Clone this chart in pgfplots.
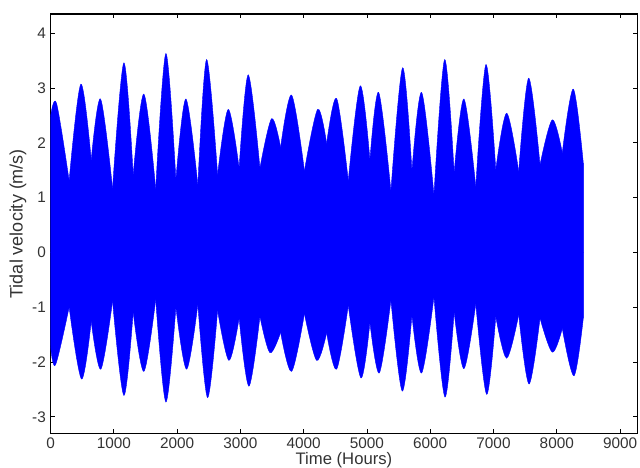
\documentclass[border=0pt]{standalone}
\usepackage{fontspec}
\setmainfont{Liberation Sans}
\usepackage{pgfplots}
\pgfplotsset{compat=1.18}
\begin{document}
\begin{tikzpicture}
\begin{axis}[
  at={(0,0)}, anchor=south west,
  scale only axis, width=440.1pt, height=314.5pt,
  xmin=0, xmax=9273, ymin=-3.3, ymax=4.35,
  xtick={0,1000,...,9000}, ytick={-3,-2,...,4},
  tick align=inside, major tick length=3pt,
  scaled x ticks=false,
  /pgf/number format/1000 sep={},
  /pgf/number format/assume math mode=true,
  tick label style={font=\fontsize{11.5}{13}\selectfont, text=black!80},
  tick style={black, line width=0.6pt},
  axis line style={line width=0.8pt},
  xlabel={Time (Hours)}, ylabel={Tidal velocity (m/s)},
  every axis x label/.style={at={(axis description cs:0.5,0)}, yshift=-14pt, anchor=north, inner sep=0pt, font=\fontsize{12.5}{14}\selectfont, text=black!80},
  every axis y label/.style={at={(axis description cs:0,0.5)}, xshift=-24.4pt, rotate=90, anchor=center, inner sep=0pt, font=\fontsize{13.5}{15}\selectfont, text=black!80},
  lobe/.style={fill=blue, draw=blue, line width=0.3pt, smooth, tension=0.55, mark=none},
]
% inner band through the cusp points (covers seams between lobes)
\addplot[fill=blue, draw=none] coordinates {
(0,2.48) (294,1.31) (643,1.69) (980,1.17) (1306,1.42) (1662,1.16) (1981,1.33)
(2328,1.23) (2640,1.42) (2980,1.54) (3309,1.54) (3636,1.92) (4012,1.49) (4363,1.99)
(4705,1.31) (5047,1.69) (5379,1.12) (5711,1.49) (6059,1.05) (6378,1.46) (6720,1.20)
(7036,1.51) (7398,1.48) (7735,1.60) (8087,1.82) (8419,1.63)
(8419,-1.20) (8087,-1.39) (7735,-1.20) (7398,-1.14) (7036,-1.17) (6720,-0.94)
(6378,-1.09) (6059,-0.81) (5711,-1.15) (5379,-0.87) (5047,-1.28) (4705,-0.97)
(4363,-1.47) (4012,-1.12) (3636,-1.46) (3309,-1.17) (2980,-1.20) (2640,-1.06)
(2328,-0.95) (1981,-1.00) (1662,-0.86) (1306,-1.09) (980,-0.89) (643,-1.26)
(294,-1.00) (0,-1.71)} -- cycle;
% upper envelope lobes
\addplot[lobe] coordinates {(0,2.48) (95,2.72) (294,1.31)} \closedcycle;
\addplot[lobe] coordinates {(294,1.31) (479,3.07) (643,1.69)} \closedcycle;
\addplot[lobe] coordinates {(643,1.69) (790,2.80) (980,1.17)} \closedcycle;
\addplot[lobe] coordinates {(980,1.17) (1159,3.46) (1306,1.42)} \closedcycle;
\addplot[lobe] coordinates {(1306,1.42) (1475,2.89) (1662,1.16)} \closedcycle;
\addplot[lobe] coordinates {(1662,1.16) (1823,3.63) (1981,1.33)} \closedcycle;
\addplot[lobe] coordinates {(1981,1.33) (2139,2.80) (2328,1.23)} \closedcycle;
\addplot[lobe] coordinates {(2328,1.23) (2466,3.52) (2640,1.42)} \closedcycle;
\addplot[lobe] coordinates {(2640,1.42) (2808,2.61) (2980,1.54)} \closedcycle;
\addplot[lobe] coordinates {(2980,1.54) (3124,3.24) (3309,1.54)} \closedcycle;
\addplot[lobe] coordinates {(3309,1.54) (3493,2.44) (3636,1.92)} \closedcycle;
\addplot[lobe] coordinates {(3636,1.92) (3810,2.87) (4012,1.49)} \closedcycle;
\addplot[lobe] coordinates {(4012,1.49) (4221,2.61) (4363,1.99)} \closedcycle;
\addplot[lobe] coordinates {(4363,1.99) (4521,2.81) (4705,1.31)} \closedcycle;
\addplot[lobe] coordinates {(4705,1.31) (4894,3.04) (5047,1.69)} \closedcycle;
\addplot[lobe] coordinates {(5047,1.69) (5185,2.92) (5379,1.12)} \closedcycle;
\addplot[lobe] coordinates {(5379,1.12) (5564,3.37) (5711,1.49)} \closedcycle;
\addplot[lobe] coordinates {(5711,1.49) (5864,2.92) (6059,1.05)} \closedcycle;
\addplot[lobe] coordinates {(6059,1.05) (6228,3.52) (6378,1.46)} \closedcycle;
\addplot[lobe] coordinates {(6378,1.46) (6533,2.80) (6720,1.20)} \closedcycle;
\addplot[lobe] coordinates {(6720,1.20) (6881,3.43) (7036,1.51)} \closedcycle;
\addplot[lobe] coordinates {(7036,1.51) (7208,2.54) (7398,1.48)} \closedcycle;
\addplot[lobe] coordinates {(7398,1.48) (7556,3.18) (7735,1.60)} \closedcycle;
\addplot[lobe] coordinates {(7735,1.60) (7929,2.42) (8087,1.82)} \closedcycle;
\addplot[lobe] coordinates {(8087,1.82) (8261,2.98) (8419,1.63)} \closedcycle;
% lower envelope lobes
\addplot[lobe] coordinates {(0,-1.71) (79,-2.05) (294,-1.00)} \closedcycle;
\addplot[lobe] coordinates {(294,-1.00) (490,-2.31) (643,-1.26)} \closedcycle;
\addplot[lobe] coordinates {(643,-1.26) (795,-2.13) (980,-0.89)} \closedcycle;
\addplot[lobe] coordinates {(980,-0.89) (1159,-2.61) (1306,-1.09)} \closedcycle;
\addplot[lobe] coordinates {(1306,-1.09) (1475,-2.17) (1662,-0.86)} \closedcycle;
\addplot[lobe] coordinates {(1662,-0.86) (1823,-2.73) (1981,-1.00)} \closedcycle;
\addplot[lobe] coordinates {(1981,-1.00) (2150,-2.13) (2328,-0.95)} \closedcycle;
\addplot[lobe] coordinates {(2328,-0.95) (2482,-2.65) (2640,-1.06)} \closedcycle;
\addplot[lobe] coordinates {(2640,-1.06) (2819,-1.97) (2980,-1.20)} \closedcycle;
\addplot[lobe] coordinates {(2980,-1.20) (3135,-2.44) (3309,-1.17)} \closedcycle;
\addplot[lobe] coordinates {(3309,-1.17) (3467,-1.83) (3636,-1.46)} \closedcycle;
\addplot[lobe] coordinates {(3636,-1.46) (3810,-2.17) (4012,-1.12)} \closedcycle;
\addplot[lobe] coordinates {(4012,-1.12) (4205,-1.97) (4363,-1.47)} \closedcycle;
\addplot[lobe] coordinates {(4363,-1.47) (4521,-2.13) (4705,-0.97)} \closedcycle;
\addplot[lobe] coordinates {(4705,-0.97) (4905,-2.29) (5047,-1.28)} \closedcycle;
\addplot[lobe] coordinates {(5047,-1.28) (5195,-2.20) (5379,-0.87)} \closedcycle;
\addplot[lobe] coordinates {(5379,-0.87) (5558,-2.53) (5711,-1.15)} \closedcycle;
\addplot[lobe] coordinates {(5711,-1.15) (5864,-2.20) (6059,-0.81)} \closedcycle;
\addplot[lobe] coordinates {(6059,-0.81) (6233,-2.64) (6378,-1.09)} \closedcycle;
\addplot[lobe] coordinates {(6378,-1.09) (6533,-2.12) (6720,-0.94)} \closedcycle;
\addplot[lobe] coordinates {(6720,-0.94) (6892,-2.59) (7036,-1.17)} \closedcycle;
\addplot[lobe] coordinates {(7036,-1.17) (7208,-1.93) (7398,-1.14)} \closedcycle;
\addplot[lobe] coordinates {(7398,-1.14) (7561,-2.40) (7735,-1.20)} \closedcycle;
\addplot[lobe] coordinates {(7735,-1.20) (7929,-1.82) (8087,-1.39)} \closedcycle;
\addplot[lobe] coordinates {(8087,-1.39) (8272,-2.25) (8419,-1.20)} \closedcycle;
\end{axis}
\pgfresetboundingbox
\path[use as bounding box] (-37.9pt,-26pt) rectangle (442.1pt,325pt);
\end{tikzpicture}
\end{document}
